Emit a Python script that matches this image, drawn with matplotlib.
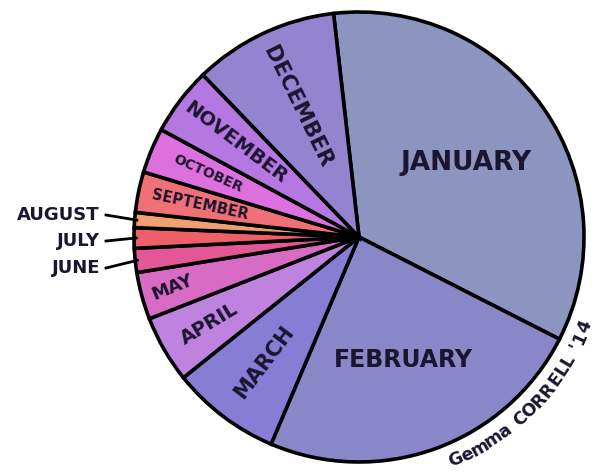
import matplotlib.pyplot as plt
import numpy as np

# months clockwise from the top, share of the year's "how much I love it" (read in degrees)
months = ['JANUARY', 'FEBRUARY', 'MARCH', 'APRIL', 'MAY', 'JUNE',
          'JULY', 'AUGUST', 'SEPTEMBER', 'OCTOBER', 'NOVEMBER', 'DECEMBER']
share = [123.5, 86.0, 28.3, 17.4, 12.2, 6.2, 5.3, 3.9, 10.5, 11.7, 17.6, 37.4]
colors = ['#8c94c0', '#8a87c8', '#877dd4', '#bf82de', '#d86cc4', '#e25896',
          '#ee6068', '#f0a070', '#f07078', '#dc70dc', '#b478e0', '#9484d0']

# label placement: radius fraction, rotation, fontsize (None = outside label)
lab_r = [0.58, 0.58, 0.70, 0.77, 0.86, None, None, None, 0.72, 0.73, 0.69, 0.64]
lab_rot = [0, 0, 53, 31, 22, 0, 0, 0, -12, -24, -37, -64]
lab_fs = [19, 17, 15, 14, 13, 13, 13, 13, 10.5, 10, 14, 15.5]

signature = "Gemma CORRELL '14"

W, H = 597, 473
cx, cy, R = 359, 236, 225
start = 96.5
ink = '#1c1530'

fig = plt.figure(figsize=(W / 100, H / 100), dpi=100, facecolor='white')
ax = fig.add_axes([0, 0, 1, 1])

wedges, _ = ax.pie(share, colors=colors, startangle=start, counterclock=False,
                   center=(cx, cy), radius=R,
                   wedgeprops=dict(edgecolor='black', linewidth=2.6))
ax.set_xlim(0, W)
ax.set_ylim(0, H)
ax.set_aspect('equal')
ax.axis('off')

tot = float(sum(share))
cum = np.cumsum([0] + share)
mids = [start - 360 * (cum[i] + share[i] / 2) / tot for i in range(len(share))]

side_y = {'AUGUST': 258, 'JULY': 232, 'JUNE': 205}
for i, m in enumerate(months):
    a = np.deg2rad(mids[i])
    if lab_r[i] is None:
        ty = side_y[m]
        ax.text(100, ty, m, ha='right', va='center', fontsize=lab_fs[i],
                fontweight='bold', color=ink)
        ex, ey = cx + R * 0.99 * np.cos(a), cy + R * 0.99 * np.sin(a)
        ax.plot([106, ex], [ty, ey], color='black', lw=2)
        continue
    x, y = cx + R * lab_r[i] * np.cos(a), cy + R * lab_r[i] * np.sin(a)
    ax.text(x, y, m, ha='center', va='center', rotation=lab_rot[i],
            rotation_mode='anchor', fontsize=lab_fs[i], fontweight='bold', color=ink)

# signature curving along the bottom-right rim, spaced by rough glyph width
def cw(ch):
    if ch == ' ':
        return 0.55
    if ch == "'":
        return 0.45
    if ch == 'm':
        return 1.25
    if ch == 'L':
        return 0.8
    if ch.islower():
        return 0.85
    return 1.0

wid = np.array([cw(c) for c in signature])
pos = np.cumsum(wid) - wid / 2
angs = -68 + (pos / wid.sum()) * 48
rs = 243
for ch, ang in zip(signature, angs):
    a = np.deg2rad(ang)
    ax.text(cx + rs * np.cos(a), cy + rs * np.sin(a), ch, ha='center', va='center',
            rotation=ang + 90, rotation_mode='anchor', fontsize=12.5,
            fontweight='bold', color=ink)

fig.savefig('out.png', dpi=100, facecolor='white')
